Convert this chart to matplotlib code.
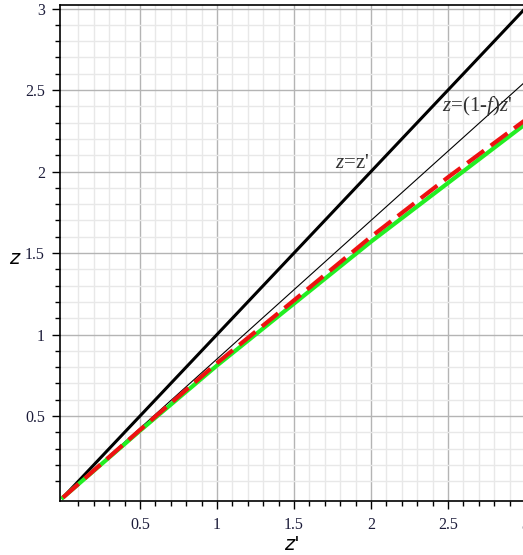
import numpy as np
import matplotlib
matplotlib.use('Agg')
import matplotlib.pyplot as plt
from matplotlib.ticker import FixedLocator

# values
zp = [0.0, 0.5, 1.0, 1.5, 2.0, 2.5, 3.0]
z_identity = [0.0, 0.5, 1.0, 1.5, 2.0, 2.5, 3.0]
z_thin = [0.0, 0.425, 0.85, 1.275, 1.70, 2.125, 2.55]
z_red = [0.0, 0.415, 0.825, 1.21, 1.60, 1.965, 2.315]
z_green = [0.0, 0.41, 0.81, 1.19, 1.57, 1.93, 2.29]
major_ticks = [0.5, 1.0, 1.5, 2.0, 2.5, 3.0]
tick_labels = ['0.5', '1', '1.5', '2', '2.5', '3']
minor_ticks = [i / 10 for i in range(1, 31)]

serif = ['Liberation Serif', 'DejaVu Serif']
plt.rcParams['mathtext.fontset'] = 'custom'
plt.rcParams['mathtext.rm'] = 'Liberation Serif'
plt.rcParams['mathtext.it'] = 'Liberation Serif:italic'

fig = plt.figure(figsize=(5.23, 5.55), dpi=100)
# the right edge of the plot runs slightly past the figure, as in the reference
ax = fig.add_axes([60 / 523, 54 / 555, 465 / 523, 496 / 555])

ax.set_xlim(-0.019, 3.0)
ax.set_ylim(-0.021, 3.022)

# grid
ax.xaxis.set_major_locator(FixedLocator(major_ticks))
ax.yaxis.set_major_locator(FixedLocator(major_ticks))
ax.xaxis.set_minor_locator(FixedLocator(minor_ticks))
ax.yaxis.set_minor_locator(FixedLocator(minor_ticks))
ax.grid(True, which='minor', color='#e8e8e8', linewidth=1.0)
ax.grid(True, which='major', color='#b4b4b4', linewidth=1.0)
ax.set_axisbelow(True)

ax.plot(zp, z_identity, color='black', linewidth=2.2)
ax.plot(zp, z_thin, color='black', linewidth=0.8)
ax.plot(zp, z_green, color='#22ee22', linewidth=3.0)
ax.plot(zp, z_red, color='#ee1111', linewidth=3.0, dashes=(5, 2))

ax.text(1.88, 2.05, r"$z$=z'", fontsize=15, family=serif, color='#333333',
        ha='center', va='center')
ax.text(2.69, 2.40, r"$z$=(1-$f$)$z$'", fontsize=15, family=serif,
        color='#333333', ha='center', va='center')

ax.set_xticklabels(tick_labels)
ax.set_yticklabels(tick_labels)
for lab in ax.get_xticklabels() + ax.get_yticklabels():
    lab.set_family(serif)
    lab.set_fontsize(11.5)
    lab.set_color('#1c1c3a')

ax.tick_params(which='major', direction='out', length=5.8, width=1)
ax.tick_params(axis='x', which='major', pad=6)
ax.tick_params(axis='y', which='major', pad=5)
ax.tick_params(which='minor', direction='out', length=3.6, width=1)

ax.spines['right'].set_visible(False)
for s in ['left', 'bottom', 'top']:
    ax.spines[s].set_linewidth(1.2)

fig.text(14 / 523, 1 - 258 / 555, 'z', fontsize=14, style='italic',
         ha='center', va='center')
fig.text(292 / 523, 1 - 544 / 555, "z'", fontsize=14, style='italic',
         ha='center', va='center')

fig.savefig('out.png', dpi=100)
